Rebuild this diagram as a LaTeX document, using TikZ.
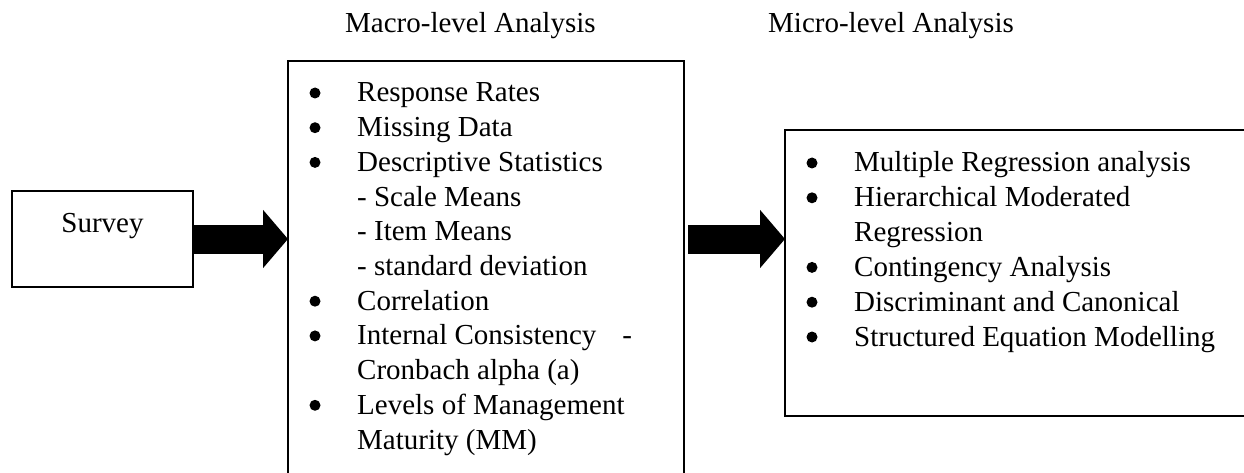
\documentclass[tikz,border=0pt]{standalone}
\usepackage{fontspec}
\setmainfont{Liberation Serif}
\usetikzlibrary{positioning}
\usetikzlibrary{arrows.meta}

\begin{document}
\begin{tikzpicture}[x=1pt,y=-1pt,
						font=\fontsize{29}{35}\selectfont,
						boxnode/.style={draw=black, line width=1.5pt, outer sep=0pt, inner sep=0pt, anchor=north west},
						item/.style={anchor=base west, inner sep=0pt},
						bigarrow/.style={line width=29pt, -{Triangle[width=57pt,length=25pt]}},
						]
						\useasboundingbox (0,0) rectangle (1244,473);
						\clip (0,0) rectangle (1244,473);
						%Nodes
						\node[item]           (macrohead) 	at	(345,33) 		{Macro-level Analysis};
						\node[item]           (microhead) 	at	(768,33) 		{Micro-level Analysis};
						\node[draw=black, line width=1.5pt, outer sep=0pt, inner sep=0pt, anchor=north,
							text width=181pt, align=center, text height=42pt, text depth=54pt]
											(survey) 	at 	(102.5,191)   {Survey};
						\node[boxnode, minimum width=396pt, minimum height=500pt] (macro) at (288,61) {};
						\node[boxnode, minimum width=520pt, minimum height=286pt] (micro) at (785,130) {};

						\node[item]      (m1) 	at 	(357,102)           {Response Rates};
						\node[item]      (m2) 	at 	(357,136.7)         {Missing Data};
						\node[item]      (m3) 	at 	(357,171.4)         {Descriptive Statistics};
						\node[item]      (m4) 	at 	(357,206.1)         {- Scale Means};
						\node[item]      (m5) 	at 	(357,240.8)         {- Item Means};
						\node[item]      (m6) 	at 	(357,275.5)         {- standard deviation};
						\node[item]      (m7) 	at 	(357,310.2)         {Correlation};
						\node[item]      (m8) 	at 	(357,344.9)         {Internal Consistency\hspace{26pt}-};
						\node[item]      (m9) 	at 	(357,379.6)         {Cronbach alpha (a)};
						\node[item]      (m10) 	at 	(357,414.3)         {Levels of Management};
						\node[item]      (m11) 	at 	(357,449)           {Maturity (MM)};

						\node[item]      (r1) 	at 	(854,172)           {Multiple Regression analysis};
						\node[item]      (r2) 	at 	(854,206.8)         {Hierarchical Moderated};
						\node[item]      (r3) 	at 	(854,241.6)         {Regression};
						\node[item]      (r4) 	at 	(854,276.4)         {Contingency Analysis};
						\node[item]      (r5) 	at 	(854,311.2)         {Discriminant and Canonical};
						\node[item]      (r6) 	at 	(854,346)           {Structured Equation Modelling};

						%Bullets
						\foreach \n in {m1,m2,m3,m7,m8,m10,r1,r2,r4,r5,r6}
							\fill ([xshift=-42pt,yshift=9pt]\n.base west) circle (5.5pt);

						%Arrows
						\draw[bigarrow] (survey.east) -- (survey.east -| macro.west);
						\draw[bigarrow, shorten <=4pt] (survey.east -| macro.east) -- (survey.east -| micro.west);
					\end{tikzpicture}
\end{document}
